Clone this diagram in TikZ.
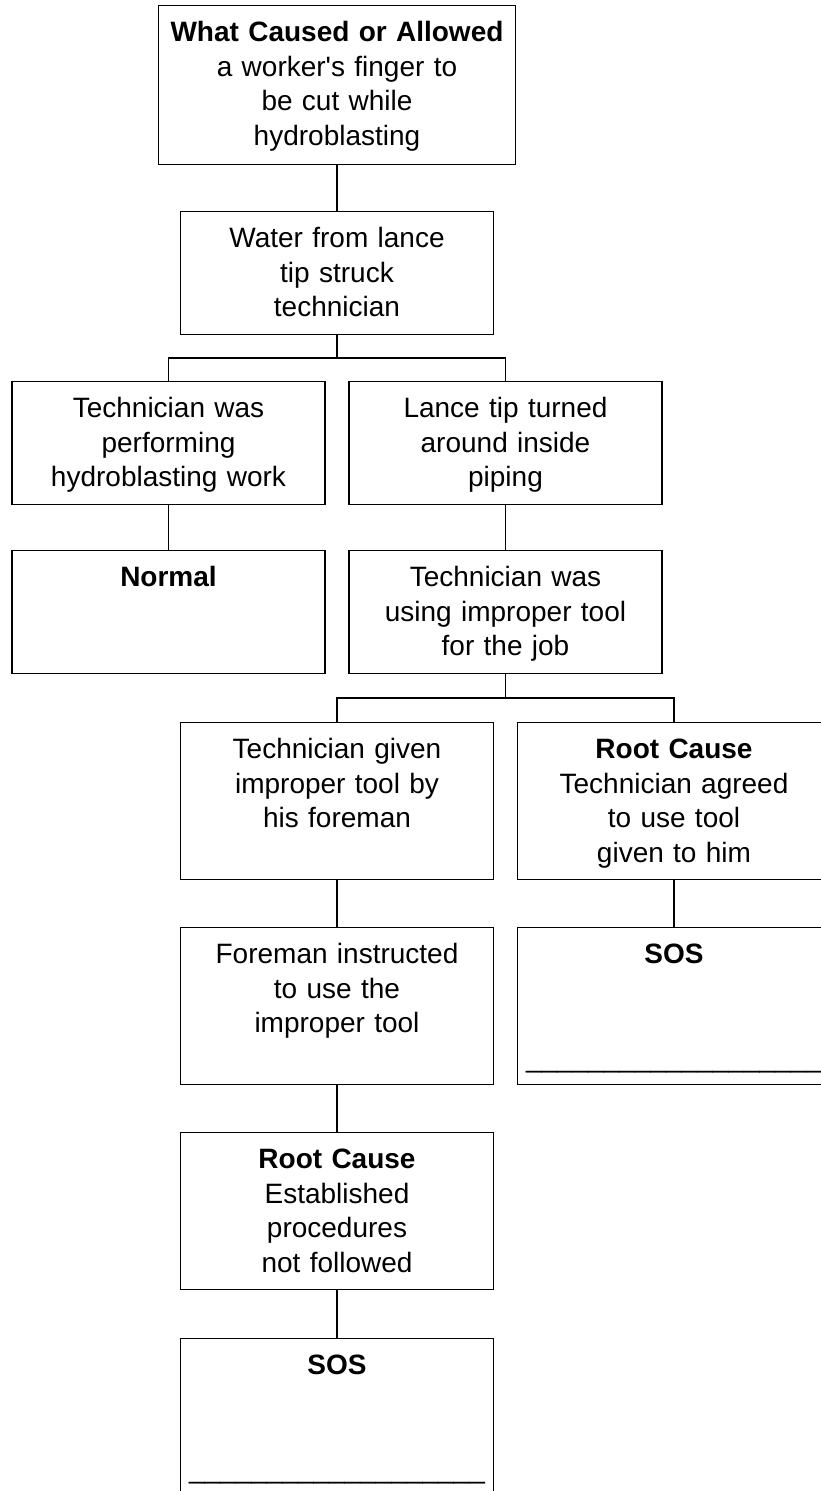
\documentclass[tikz,border=0pt]{standalone}
\usepackage{fontspec}
\setmainfont{Liberation Sans}[Ligatures=TeXOff]
\usetikzlibrary{positioning}
\def\colsep{168.5}
\newcommand{\sosline}{\_\_\_\_\_\_\_\_\_\_\_\_\_\_\_\_\_\_\_}

\begin{document}
\begin{tikzpicture}[x=1pt, y=1pt, line width=1.4pt, font=\fontsize{28}{34.5}\selectfont]
			\tikzstyle{box}=[draw=black, anchor=north, inner sep=0pt, text width=313pt, align=center, text height=36pt]
			\tikzstyle{short box}=[box, text depth=87pt]
			\tikzstyle{tall box}=[box, text depth=121pt]
			\tikzstyle{link}=[draw=black]

			% page frame, the right column runs off the page
			\clip (0,0) rectangle (821,-1491);

			% Draw the top event
			\node[box, text width=357pt, text depth=123pt] (event) at (2*\colsep, -5) {\textbf{What Caused or Allowed}\\a worker's finger to\\be cut while\\hydroblasting};
			\node[short box] (water) at (2*\colsep, -211) {Water from lance\\tip struck\\technician};

			% Draw the first split
			\node[short box] (perform) at (\colsep, -381) {Technician was\\performing\\hydroblasting work};
			\node[short box] (lance) at (3*\colsep, -381) {Lance tip turned\\around inside\\piping};
			\node[short box] (normal) at (\colsep, -550) {\textbf{Normal}};
			\node[short box] (improper) at (3*\colsep, -550) {Technician was\\using improper tool\\for the job};

			% Draw the second split
			\node[tall box] (given) at (2*\colsep, -722) {Technician given\\improper tool by\\his foreman};
			\node[tall box] (agreed) at (4*\colsep, -722) {\textbf{Root Cause}\\Technician agreed\\to use tool\\given to him};
			\node[tall box] (sos right) at (4*\colsep, -927) {\textbf{SOS}\\~\\~\\\sosline};
			\node[tall box] (foreman) at (2*\colsep, -927) {Foreman instructed\\to use the\\improper tool};
			\node[tall box] (procedures) at (2*\colsep, -1132) {\textbf{Root Cause}\\Established\\procedures\\not followed};
			\node[tall box] (sos left) at (2*\colsep, -1338) {\textbf{SOS}\\~\\~\\\sosline};

			% Junctions
			\coordinate (split1) at (2*\colsep, -358);
			\coordinate (split2) at (3*\colsep, -698);

			% Connect the boxes straight down
			\foreach \source/\dest in {event/water, perform/normal, lance/improper, given/foreman, foreman/procedures, procedures/sos left, agreed/sos right} {
				\path (\source) edge[link] (\dest);
			}

			% Connect the splits
			\draw[link] (water) -- (split1);
			\draw[link] (split1) -| (perform);
			\draw[link] (split1) -| (lance);
			\draw[link] (improper) -- (split2);
			\draw[link] (split2) -| (given);
			\draw[link] (split2) -| (agreed);
\end{tikzpicture}
\end{document}
